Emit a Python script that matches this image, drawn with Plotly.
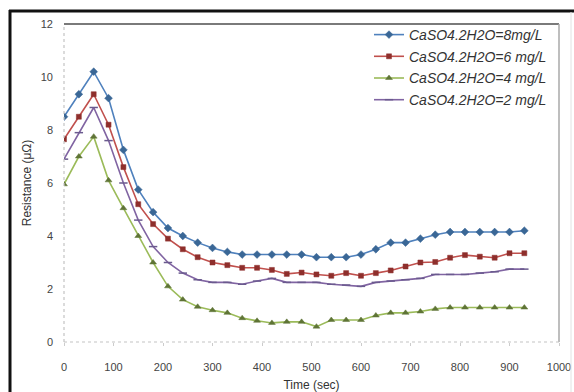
import plotly.graph_objects as go

time_sec = [0, 30, 60, 90, 120, 150, 180, 210, 240, 270, 300, 330, 360, 390, 420, 450,
            480, 510, 540, 570, 600, 630, 660, 690, 720, 750, 780, 810, 840, 870, 900, 930]

r_8mg = [8.5, 9.35, 10.2, 9.2, 7.25, 5.75, 4.9, 4.3, 4.0, 3.75, 3.55, 3.4, 3.3, 3.3, 3.3, 3.3,
         3.3, 3.2, 3.2, 3.2, 3.3, 3.5, 3.75, 3.75, 3.9, 4.05, 4.15, 4.15, 4.15, 4.15, 4.15, 4.2]
r_6mg = [7.65, 8.5, 9.35, 8.2, 6.6, 5.2, 4.45, 3.9, 3.5, 3.2, 3.0, 2.9, 2.8, 2.8, 2.72, 2.57,
         2.62, 2.55, 2.5, 2.6, 2.5, 2.6, 2.7, 2.85, 3.0, 3.02, 3.18, 3.28, 3.22, 3.18, 3.35, 3.35]
r_4mg = [5.95, 7.0, 7.75, 6.1, 5.05, 4.0, 3.0, 2.1, 1.6, 1.33, 1.2, 1.1, 0.9, 0.8, 0.72, 0.76,
         0.76, 0.58, 0.83, 0.83, 0.83, 1.0, 1.1, 1.1, 1.15, 1.25, 1.3, 1.3, 1.3, 1.3, 1.3, 1.3]
r_2mg = [6.9, 7.9, 8.85, 7.6, 6.0, 4.6, 3.6, 3.0, 2.6, 2.35, 2.25, 2.25, 2.18, 2.3, 2.4, 2.25,
         2.25, 2.25, 2.18, 2.15, 2.1, 2.25, 2.3, 2.35, 2.4, 2.55, 2.55, 2.55, 2.6, 2.65, 2.75, 2.75]

series_names = ["CaSO4.2H2O=8mg/L", "CaSO4.2H2O=6 mg/L", "CaSO4.2H2O=4 mg/L", "CaSO4.2H2O=2 mg/L"]
x_ticks = [0, 100, 200, 300, 400, 500, 600, 700, 800, 900, 1000]
y_ticks = [0, 2, 4, 6, 8, 10, 12]

styles = [
    dict(line="#4F81BD", marker="#3A6796", symbol="diamond", size=6),
    dict(line="#C0504D", marker="#8E2F2C", symbol="square", size=5),
    dict(line="#9BBB59", marker="#5F7436", symbol="triangle-up", size=6),
    dict(line="#8064A2", marker="#6A5A8E", symbol="line-ew", size=6),
]

fig = go.Figure()
for name, vals, st in zip(series_names, [r_8mg, r_6mg, r_4mg, r_2mg], styles):
    mk = dict(color=st["marker"], symbol=st["symbol"], size=st["size"],
              line=dict(color=st["marker"], width=1.5 if st["symbol"] == "line-ew" else 0.5))
    fig.add_trace(go.Scatter(x=time_sec, y=vals, name=name, mode="lines+markers",
                             line=dict(color=st["line"], width=1.6), marker=mk,
                             legendgroup=name))

L, R, T, B = 64, 15, 24, 50
W, H = 574, 392
pw, ph = W - L - R, H - T - B

def px(xp):
    return (xp - L) / pw

def py(yp):
    return (H - B - yp) / ph

shapes = [
    # plot-area borders
    dict(type="line", xref="paper", yref="paper", x0=0, x1=1, y0=1, y1=1,
         line=dict(color="#7a7a7a", width=2)),
    dict(type="line", xref="paper", yref="paper", x0=1, x1=1, y0=0, y1=1,
         line=dict(color="#a8a8a8", width=1.5)),
    dict(type="line", xref="paper", yref="paper", x0=0, x1=0, y0=0, y1=1,
         line=dict(color="#c4c4c4", width=1.2, dash="dot")),
    dict(type="line", xref="paper", yref="paper", x0=0, x1=1, y0=0, y1=0,
         line=dict(color="#c4c4c4", width=1.2, dash="dot")),
    # outer image frame
    dict(type="line", xref="paper", yref="paper", x0=px(9), x1=px(W), y0=py(11), y1=py(11),
         line=dict(color="#111111", width=3)),
    dict(type="line", xref="paper", yref="paper", x0=px(10), x1=px(10), y0=py(H), y1=py(10),
         line=dict(color="#111111", width=3)),
    dict(type="line", xref="paper", yref="paper", x0=px(571), x1=px(571), y0=py(H), y1=py(12),
         line=dict(color="#e2e2e2", width=1)),
]

tick_font = dict(family="Liberation Sans", size=11, color="#444444")

fig.update_layout(
    width=W, height=H,
    margin=dict(l=L, r=R, t=T, b=B, autoexpand=False),
    paper_bgcolor="white", plot_bgcolor="white",
    showlegend=True,
    legend=dict(x=px(369), y=py(19), xanchor="left", yanchor="top",
                font=dict(family="Liberation Sans", size=14, color="#333333", style="italic"),
                bgcolor="rgba(0,0,0,0)", tracegroupgap=0.5, itemwidth=30),
    shapes=shapes,
    xaxis=dict(range=[0, 1000], tickvals=x_ticks, ticktext=[str(v) for v in x_ticks],
               showgrid=False, zeroline=False, showline=False,
               ticks="outside", ticklen=3, tickcolor="#cccccc",
               tickfont=tick_font, ticklabelstandoff=12,
               title=dict(text="Time (sec)", font=dict(family="Liberation Sans", size=12, color="#333333"),
                          standoff=8)),
    yaxis=dict(range=[0, 12], tickvals=y_ticks, ticktext=[str(v) for v in y_ticks],
               showgrid=False, zeroline=False, showline=False,
               tickfont=tick_font, ticklabelstandoff=10,
               title=dict(text="Resistance (μΩ)", font=dict(family="Liberation Sans", size=12, color="#333333"),
                          standoff=6)),
)

fig.write_html("out.html", config={"displayModeBar": False},
               post_script="document.body.style.margin='0px';")
